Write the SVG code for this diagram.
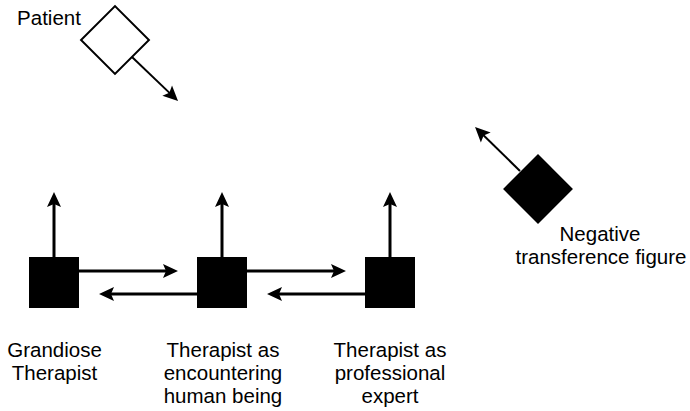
<svg xmlns="http://www.w3.org/2000/svg" width="690" height="411" viewBox="0 0 690 411">
  <style>
    .lbl { font-family: "Liberation Sans", Arial, sans-serif; font-size: 20.5px; fill: #000; text-anchor: middle; }
    .box { fill: #000; stroke: none; }
    .edge { stroke: #000; stroke-width: 3; fill: none; marker-end: url(#head); }
    .edge.thin { stroke-width: 2; }
  </style>
  <defs>
    <marker id="head" markerUnits="userSpaceOnUse" viewBox="-6 -8 17 16" refX="0" refY="0" markerWidth="17" markerHeight="16" orient="auto" overflow="visible">
      <path d="M10,0 L-5,-7 L-2,0 L-5,7 Z" fill="#000"/>
    </marker>
  </defs>
  <rect width="690" height="411" fill="#fff"/>

  <!-- connectors -->
  <g id="connectors">
    <line class="edge thin" x1="132" y1="57" x2="170.8" y2="94.1"/>
    <line class="edge thin" x1="520" y1="171" x2="482.2" y2="134"/>
    <line class="edge" x1="54" y1="257" x2="54" y2="202"/>
    <line class="edge" x1="222" y1="257" x2="222" y2="202"/>
    <line class="edge" x1="390" y1="257" x2="390" y2="202"/>
    <line class="edge" x1="79" y1="271" x2="168" y2="271"/>
    <line class="edge" x1="247" y1="271" x2="336" y2="271"/>
    <line class="edge" x1="197" y1="294" x2="109" y2="294"/>
    <line class="edge" x1="365" y1="294" x2="277" y2="294"/>
  </g>

  <g id="patient">
    <rect x="-24" y="-24" width="48" height="48" transform="translate(115,40) rotate(45)" fill="#fff" stroke="#000" stroke-width="2"/>
    <text class="lbl" x="49" y="25">Patient</text>
  </g>

  <g id="negative-transference">
    <rect x="-24.7" y="-24.7" width="49.4" height="49.4" transform="translate(538,189) rotate(45)" class="box"/>
    <text class="lbl" x="600" y="241">Negative</text>
    <text class="lbl" x="601" y="264">transference figure</text>
  </g>

  <g id="grandiose">
    <rect class="box" x="29" y="257" width="50" height="51"/>
    <text class="lbl" x="54.5" y="357">Grandiose</text>
    <text class="lbl" x="54.5" y="380">Therapist</text>
  </g>

  <g id="encountering">
    <rect class="box" x="197" y="257" width="50" height="51"/>
    <text class="lbl" x="223" y="357">Therapist as</text>
    <text class="lbl" x="223" y="380">encountering</text>
    <text class="lbl" x="223" y="403">human being</text>
  </g>

  <g id="expert">
    <rect class="box" x="365" y="257" width="50" height="51"/>
    <text class="lbl" x="390" y="357">Therapist as</text>
    <text class="lbl" x="390" y="380">professional</text>
    <text class="lbl" x="390" y="403">expert</text>
  </g>
</svg>
